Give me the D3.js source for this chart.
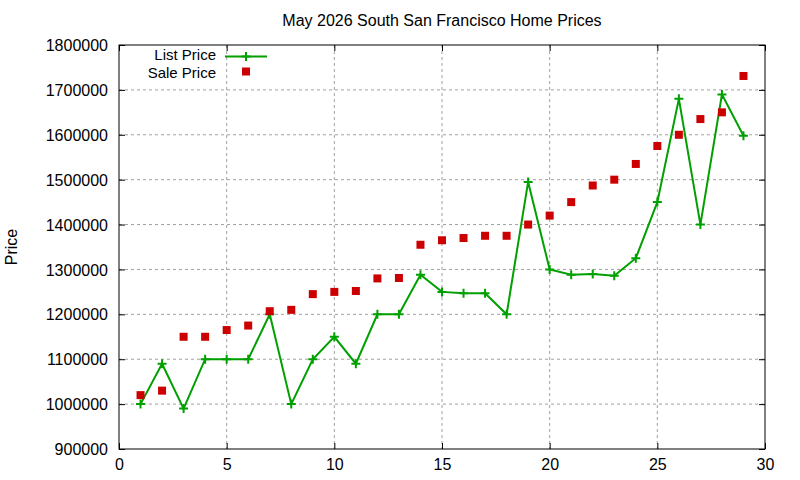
<!DOCTYPE html>
<html>
<head>
<meta charset="utf-8">
<script src="https://cdn.jsdelivr.net/npm/d3@7"></script>
<style>
  body { margin: 0; background: #fff; }
  svg { display: block; font-family: "Liberation Sans", Arial, sans-serif; }
  .tick text { font-size: 16px; fill: #000; font-family: "Liberation Sans", Arial, sans-serif; }
  .grid line { stroke: #a0a0a0; stroke-width: 1; stroke-dasharray: 3,3; }
</style>
</head>
<body>
<svg width="800" height="480"></svg>
<script>
"use strict";

const title = "May 2026 South San Francisco Home Prices";

// day of month
const days = [1, 2, 3, 4, 5, 6, 7, 8, 9, 10, 11, 12, 13, 14, 15, 16, 17, 18, 19, 20, 21, 22, 23, 24, 25, 26, 27, 28, 29];

const listPrice = [1000000, 1090000, 990000, 1100000, 1100000, 1100000, 1200000, 1000000, 1100000, 1150000,
  1090000, 1200000, 1200000, 1288000, 1250000, 1247000, 1247000, 1200000, 1495000, 1300000,
  1288000, 1290000, 1286000, 1325000, 1450000, 1680000, 1400000, 1690000, 1598000];

const salePrice = [1020000, 1030000, 1150000, 1150000, 1165000, 1175000, 1207000, 1210000, 1245000, 1250000,
  1252000, 1280000, 1281000, 1355000, 1365000, 1370000, 1375000, 1375000, 1400000, 1420000,
  1450000, 1487000, 1500000, 1535000, 1575000, 1600000, 1635000, 1650000, 1731000];

const xTicks = [0, 5, 10, 15, 20, 25, 30];
const yTicks = [900000, 1000000, 1100000, 1200000, 1300000, 1400000, 1500000, 1600000, 1700000, 1800000];

const seriesNames = ["List Price", "Sale Price"];

const svg = d3.select("svg");
const width = +svg.attr("width");
const height = +svg.attr("height");

const render = () => {
  const margin = { top: 45, right: 35, bottom: 31, left: 119 };
  const innerWidth = width - margin.left - margin.right;
  const innerHeight = height - margin.top - margin.bottom;
  const green = "#00a000";
  const red = "#cc0000";
  const tickLen = 6;

  const xScale = d3.scaleLinear().domain([0, 30]).range([0, innerWidth]);
  const yScale = d3.scaleLinear().domain([900000, 1800000]).range([innerHeight, 0]);

  const g = svg.append("g")
    .attr("transform", `translate(${margin.left},${margin.top})`);

  // dotted grid
  const grid = g.append("g").attr("class", "grid");
  grid.selectAll(".gx")
    .data(xTicks.slice(1, -1))
    .enter().append("line")
    .attr("x1", d => xScale(d)).attr("x2", d => xScale(d))
    .attr("y1", 0).attr("y2", innerHeight);
  grid.selectAll(".gy")
    .data(yTicks.slice(1, -1))
    .enter().append("line")
    .attr("y1", d => yScale(d)).attr("y2", d => yScale(d))
    .attr("x1", 0).attr("x2", innerWidth);

  // axes, ticks pointing inward like gnuplot
  const yAxisG = g.append("g")
    .call(d3.axisLeft(yScale).tickValues(yTicks).tickSizeInner(-tickLen).tickSizeOuter(0).tickPadding(11).tickFormat(d3.format("d")));
  const xAxisG = g.append("g")
    .attr("transform", `translate(0,${innerHeight})`)
    .call(d3.axisBottom(xScale).tickValues(xTicks).tickSizeInner(-tickLen).tickSizeOuter(0).tickPadding(6).tickFormat(d3.format("d")));
  g.append("g")
    .attr("transform", `translate(${innerWidth},0)`)
    .call(d3.axisRight(yScale).tickValues(yTicks).tickSizeInner(-tickLen).tickSizeOuter(0).tickFormat(""));
  g.append("g")
    .call(d3.axisTop(xScale).tickValues(xTicks).tickSizeInner(-tickLen).tickSizeOuter(0).tickFormat(""));

  g.selectAll(".domain").remove();
  g.selectAll(".tick line").attr("stroke", "#000");
  yAxisG.selectAll(".tick text").attr("dy", "0.35em");
  xAxisG.selectAll(".tick text").attr("dy", "0.95em");

  g.append("rect")
    .attr("width", innerWidth)
    .attr("height", innerHeight)
    .attr("fill", "none")
    .attr("stroke", "#000")
    .attr("stroke-width", 1);

  const plusPath = (x, y, r) => `M${x - r},${y}H${x + r}M${x},${y - r}V${y + r}`;

  // list price line + markers
  const line = d3.line()
    .x((d, i) => xScale(days[i]))
    .y(d => yScale(d));

  g.append("path")
    .datum(listPrice)
    .attr("d", line)
    .attr("fill", "none")
    .attr("stroke", green)
    .attr("stroke-width", 2);

  g.selectAll(".plus")
    .data(listPrice)
    .enter().append("path")
    .attr("class", "plus")
    .attr("d", (d, i) => plusPath(xScale(days[i]), yScale(d), 4.5))
    .attr("stroke", green)
    .attr("stroke-width", 2);

  // sale price squares
  const sq = 8;
  g.selectAll(".sale")
    .data(salePrice)
    .enter().append("rect")
    .attr("class", "sale")
    .attr("x", (d, i) => xScale(days[i]) - sq / 2)
    .attr("y", d => yScale(d) - sq / 2)
    .attr("width", sq)
    .attr("height", sq)
    .attr("fill", red);

  // legend
  const legend = svg.append("g").attr("font-size", 15);
  legend.append("text")
    .attr("x", 216).attr("y", 55).attr("dy", "0.35em")
    .attr("text-anchor", "end")
    .text(seriesNames[0]);
  legend.append("line")
    .attr("x1", 225).attr("x2", 267).attr("y1", 56.5).attr("y2", 56.5)
    .attr("stroke", green).attr("stroke-width", 2);
  legend.append("path")
    .attr("d", plusPath(246, 56.5, 4.5))
    .attr("stroke", green).attr("stroke-width", 2);
  legend.append("text")
    .attr("x", 216).attr("y", 72.5).attr("dy", "0.35em")
    .attr("text-anchor", "end")
    .text(seriesNames[1]);
  legend.append("rect")
    .attr("x", 246 - sq / 2).attr("y", 71.5 - sq / 2)
    .attr("width", sq).attr("height", sq)
    .attr("fill", red);

  // title and axis label
  svg.append("text")
    .attr("x", margin.left + innerWidth / 2)
    .attr("y", 26)
    .attr("text-anchor", "middle")
    .attr("font-size", 16)
    .text(title);

  svg.append("text")
    .attr("transform", `translate(17,${margin.top + innerHeight / 2}) rotate(-90)`)
    .attr("text-anchor", "middle")
    .attr("font-size", 16)
    .text("Price");
};

render();
</script>
</body>
</html>
